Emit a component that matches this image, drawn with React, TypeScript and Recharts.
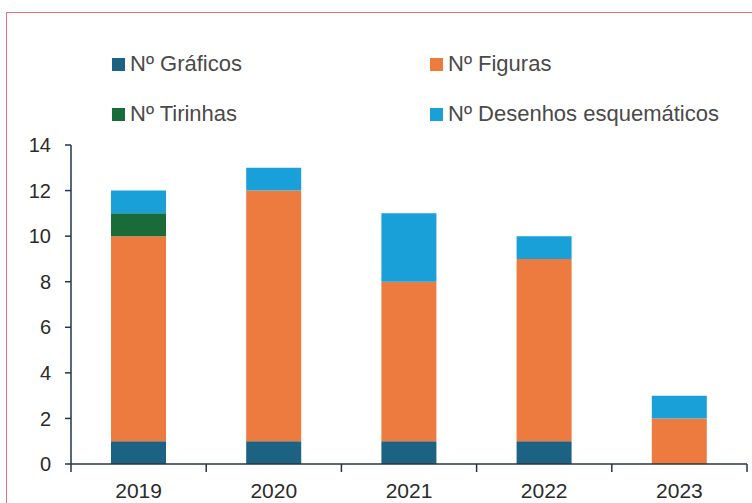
import { BarChart, Bar, XAxis, YAxis } from 'recharts';

const years = ['2019', '2020', '2021', '2022', '2023'];
const graficos = [1, 1, 1, 1, 0];
const figuras = [9, 11, 7, 8, 2];
const tirinhas = [1, 0, 0, 0, 0];
const desenhos = [1, 1, 3, 1, 1];
const yTicks = [0, 2, 4, 6, 8, 10, 12, 14];

const seriesNames = ['Nº Gráficos', 'Nº Figuras', 'Nº Tirinhas', 'Nº Desenhos esquemáticos'];
const seriesKeys = ['graficos', 'figuras', 'tirinhas', 'desenhos'];
const seriesColors = ['#1b6283', '#ed7a3f', '#1a6b3a', '#19a0d8'];

const data = years.map((year, i) => ({
  year,
  graficos: graficos[i],
  figuras: figuras[i],
  tirinhas: tirinhas[i],
  desenhos: desenhos[i],
}));

const W = 752;
const H = 503;
const AXIS_W = 71;
const RIGHT = 5;
const band = (W - AXIS_W - RIGHT) / years.length;
// no serif face available here, Liberation Sans keeps the widths close
const font = '"Liberation Sans", Arial, sans-serif';

// label in the middle, tick mark on the category boundary
function YearTick(props: any) {
  const { x, y, payload, index } = props;
  return (
    <g>
      {index === 0 && (
        <line x1={x - band / 2} y1={y} x2={x - band / 2} y2={y + 8} stroke="#2a3440" strokeWidth={1.5} />
      )}
      <line x1={x + band / 2} y1={y} x2={x + band / 2} y2={y + 8} stroke="#2a3440" strokeWidth={1.5} />
      <text x={x} y={y + 34} textAnchor="middle" fontSize={21} fontFamily={font} fill="#2b2b2b">
        {payload.value}
      </text>
    </g>
  );
}

// legend: 2 columns, 2 rows
const legendPos = [
  { left: 112, top: 52 },
  { left: 430, top: 52 },
  { left: 112, top: 102 },
  { left: 430, top: 102 },
];

export default function App() {
  return (
    <div style={{ position: 'absolute', left: 0, top: 0, width: W, height: H, overflow: 'hidden', background: '#fff' }}>
      <div
        style={{
          position: 'absolute',
          left: 6,
          top: 12,
          width: 900,
          height: 700,
          border: '1.5px solid #ef6f76',
        }}
      />
      {seriesNames.map((name, i) => (
        <div
          key={name}
          style={{
            position: 'absolute',
            left: legendPos[i].left,
            top: legendPos[i].top,
            height: 24,
            lineHeight: '24px',
            display: 'flex',
            alignItems: 'center',
            fontFamily: font,
            fontSize: 22,
            color: '#4a4a4a',
            whiteSpace: 'nowrap',
          }}
        >
          <span style={{ width: 13, height: 13, background: seriesColors[i], marginRight: 5, display: 'inline-block' }} />
          {name}
        </div>
      ))}
      <div style={{ position: 'absolute', left: 0, top: 0 }}>
        <BarChart width={W} height={H} data={data} margin={{ top: 145, right: RIGHT, bottom: 0, left: 0 }}>
          <XAxis
            dataKey="year"
            height={39}
            tickSize={0}
            tickMargin={0}
            tickLine={false}
            axisLine={{ stroke: '#2a3440', strokeWidth: 1.5 }}
            tick={<YearTick />}
            interval={0}
          />
          <YAxis
            width={AXIS_W}
            domain={[0, 14]}
            ticks={yTicks}
            tickSize={6}
            tickMargin={14}
            axisLine={{ stroke: '#1f3550', strokeWidth: 1.5 }}
            tickLine={{ stroke: '#1f3550', strokeWidth: 1.5 }}
            tick={{ fontSize: 20, fontFamily: font, fill: '#2b2b2b' }}
          />
          {seriesKeys.map((key, i) => (
            <Bar
              key={key}
              dataKey={key}
              name={seriesNames[i]}
              stackId="a"
              fill={seriesColors[i]}
              barSize={55}
              isAnimationActive={false}
            />
          ))}
        </BarChart>
      </div>
    </div>
  );
}
